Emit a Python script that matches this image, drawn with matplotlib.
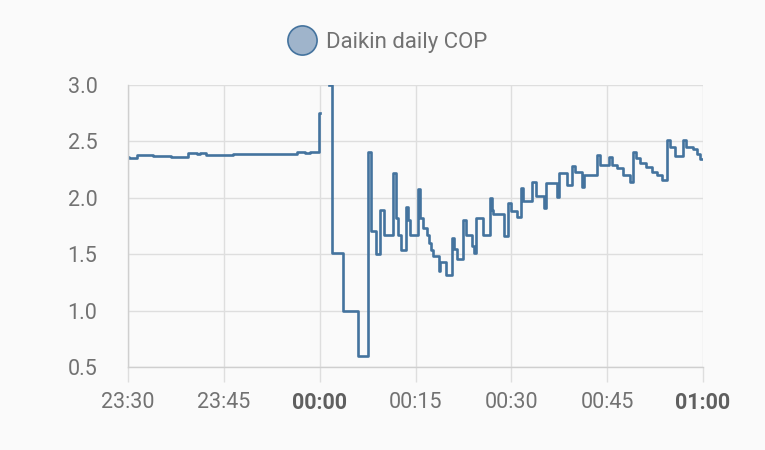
import matplotlib as mpl
mpl.use('Agg')
import matplotlib.pyplot as plt
from matplotlib.lines import Line2D
import numpy as np

plt.rcParams['font.family'] = ['Roboto', 'DejaVu Sans']

# minutes after 23:30 at which each step starts, and the COP held from there
minutes = [0.0, 0.2, 1.4, 3.9, 6.8, 9.4, 10.8, 11.3, 12.2, 16.5, 26.4, 27.7, 28.5,
           29.9, 30.1, 31.4, 32.0, 33.7, 36.0, 37.6, 38.0, 38.8, 39.5, 40.0, 41.4,
           41.9, 42.2, 42.8, 43.5, 43.9, 44.2, 45.4, 45.7, 46.2, 46.8, 47.1, 47.4,
           47.8, 48.6, 48.9, 49.8, 50.7, 51.0, 51.5, 52.5, 52.9, 53.8, 54.2, 54.5,
           55.5, 56.6, 56.9, 57.2, 58.9, 59.5, 59.9, 60.9, 61.5, 61.9, 63.3, 63.8,
           65.1, 65.5, 67.1, 67.5, 68.7, 69.5, 70.0, 71.0, 71.4, 73.4, 73.8, 75.3,
           75.7, 76.5, 77.5, 78.6, 79.0, 79.5, 80.1, 81.1, 82.0, 82.8, 83.5, 84.3,
           84.8, 85.6, 86.9, 87.3, 88.4, 89.0, 89.6, 90.0]
cop = [2.365, 2.355, 2.38, 2.37, 2.36, 2.395, 2.385, 2.395, 2.38, 2.39, 2.405, 2.395, 2.405,
       2.75, np.nan, 3.0, 1.51, 1.0, 0.6, 2.41, 1.71, 1.50, 1.89, 1.67, 2.22,
       1.82, 1.67, 1.54, 1.92, 1.80, 1.67, 2.08, 1.82, 1.73, 1.67, 1.60, 1.54,
       1.48, 1.35, 1.43, 1.32, 1.64, 1.55, 1.46, 1.80, 1.67, 1.57, 1.51, 1.82,
       1.67, 2.00, 1.89, 1.86, 1.66, 1.95, 1.88, 1.83, 2.09, 1.97, 2.14, 2.02,
       1.91, 2.13, 2.01, 2.22, 2.11, 2.28, 2.23, 2.10, 2.20, 2.38, 2.29, 2.36,
       2.29, 2.26, 2.20, 2.14, 2.41, 2.35, 2.31, 2.27, 2.23, 2.20, 2.16, 2.51,
       2.45, 2.37, 2.51, 2.45, 2.43, 2.39, 2.34, 2.34]

tick_minutes = [0, 15, 30, 45, 60, 75, 90]
tick_labels = ["23:30", "23:45", "00:00", "00:15", "00:30", "00:45", "01:00"]
bold_labels = ["00:00", "01:00"]
y_ticks = [0.5, 1.0, 1.5, 2.0, 2.5, 3.0]

line_color = '#44739e'
grid_color = '#dedede'
text_color = '#727272'
bg = '#fafafa'

fig = plt.figure(figsize=(7.65, 4.5), dpi=100, facecolor=bg)
ax = fig.add_axes([0.1673, 0.1844, 0.7517, 0.6267], facecolor=bg)

ax.step(minutes, cop, where='post', color=line_color, lw=1.9)

ax.set_xlim(0, 90)
ax.set_ylim(0.5, 3.0)
ax.set_xticks(tick_minutes)
ax.set_xticklabels(tick_labels)
ax.set_yticks(y_ticks)
ax.set_yticklabels([f"{v:.1f}" for v in y_ticks])

for lab in ax.get_xticklabels():
    if lab.get_text() in bold_labels:
        lab.set_fontweight('bold')
        lab.set_color('#5f5f5f')
    else:
        lab.set_color(text_color)
for lab in ax.get_yticklabels():
    lab.set_color(text_color)

ax.tick_params(axis='x', length=11, width=1.0, color=grid_color, labelsize=15.5, pad=7)
ax.tick_params(axis='y', length=0, labelsize=15.5, pad=22)

ax.grid(True, color=grid_color, lw=1.0)
ax.set_axisbelow(True)
for s in ['top', 'right']:
    ax.spines[s].set_visible(False)
for s in ['left', 'bottom']:
    ax.spines[s].set_color('#cfcfcf')
    ax.spines[s].set_linewidth(1.0)

handle = Line2D([], [], ls='none', marker='o', markersize=21,
                markerfacecolor='#9fb4cb', markeredgecolor=line_color, markeredgewidth=1.2)
fig.legend([handle], ["Daikin daily COP"], loc='center', bbox_to_anchor=(0.507, 0.905),
           frameon=False, fontsize=16, labelcolor=text_color, handletextpad=0.5,
           handlelength=1.2)

fig.savefig('out.png', dpi=100, facecolor=bg)
